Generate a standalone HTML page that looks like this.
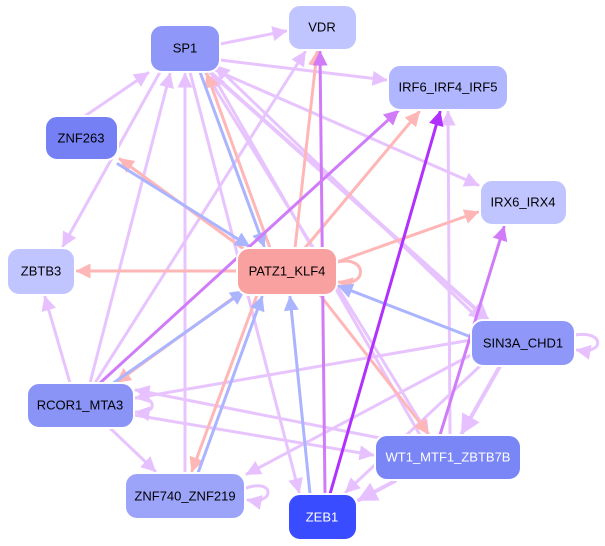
<!DOCTYPE html>
<html><head><meta charset="utf-8"><style>
html,body{margin:0;padding:0;background:#fff;}
svg{display:block;}
text{font-family:"Liberation Sans",sans-serif;font-size:13px;text-anchor:middle;dominant-baseline:central;}
</style></head><body>
<svg width="605" height="546" viewBox="0 0 605 546" xmlns="http://www.w3.org/2000/svg">
<defs>
<marker id="aL" markerWidth="5" markerHeight="5" refX="4.5" refY="2.5" orient="auto" markerUnits="strokeWidth"><path d="M0,0L5,2.5L0,5z" fill="#e6c0ff"/></marker>
<marker id="aP" markerWidth="5" markerHeight="5" refX="4.5" refY="2.5" orient="auto" markerUnits="strokeWidth"><path d="M0,0L5,2.5L0,5z" fill="#ffb6b6"/></marker>
<marker id="aB" markerWidth="5" markerHeight="5" refX="4.5" refY="2.5" orient="auto" markerUnits="strokeWidth"><path d="M0,0L5,2.5L0,5z" fill="#aab4ff"/></marker>
<marker id="aM" markerWidth="5" markerHeight="5" refX="4.5" refY="2.5" orient="auto" markerUnits="strokeWidth"><path d="M0,0L5,2.5L0,5z" fill="#d07cf8"/></marker>
<marker id="aV" markerWidth="5" markerHeight="5" refX="4.5" refY="2.5" orient="auto" markerUnits="strokeWidth"><path d="M0,0L5,2.5L0,5z" fill="#b030ff"/></marker>
</defs>
<g fill="none" stroke-width="3" stroke-linecap="round">
<g stroke="#e8c4ff" marker-end="url(#aL)">
<line x1="220" y1="44" x2="286" y2="31"/>
<line x1="220" y1="60" x2="386" y2="80"/>
<line x1="215" y1="70" x2="478" y2="185"/>
<line x1="160" y1="72" x2="63" y2="246"/>
<line x1="210" y1="72" x2="488" y2="320" stroke-width="4"/>
<line x1="205" y1="72" x2="428" y2="434"/>
<line x1="190" y1="72" x2="299" y2="492"/>
<line x1="85" y1="116" x2="148" y2="73"/>
<line x1="95" y1="383" x2="305" y2="52"/>
<line x1="90" y1="383" x2="170" y2="74"/>
<line x1="70" y1="383" x2="45" y2="297"/>
<line x1="110" y1="428" x2="155" y2="471"/>
<line x1="134" y1="415" x2="373" y2="455"/>
<line x1="471" y1="340" x2="136" y2="398"/>
<line x1="390" y1="440" x2="136" y2="390"/>
<line x1="450" y1="435" x2="448" y2="112"/>
<line x1="420" y1="435" x2="212" y2="74"/>
<line x1="395" y1="481" x2="359" y2="500" stroke-width="4"/>
<line x1="500" y1="366" x2="462" y2="433" stroke-width="4"/>
<line x1="471" y1="355" x2="247" y2="474"/>
<line x1="480" y1="366" x2="346" y2="492"/>
<line x1="480" y1="320" x2="216" y2="66"/>
<line x1="185" y1="473" x2="185" y2="74"/>
<path d="M246,488 C275,478 275,505 248,500"/>
<path d="M575,335 C605,330 605,355 577,350"/>
<path d="M134,398 C158,395 158,415 136,412"/>
</g>
<g stroke="#ffb6b6" marker-end="url(#aP)">
<line x1="270" y1="248" x2="207" y2="74"/>
<line x1="245" y1="250" x2="120" y2="159"/>
<line x1="295" y1="248" x2="317" y2="52"/>
<line x1="305" y1="248" x2="419" y2="112"/>
<line x1="337" y1="262" x2="478" y2="212"/>
<line x1="237" y1="271" x2="77" y2="271"/>
<line x1="320" y1="295" x2="428" y2="433"/>
<line x1="240" y1="293" x2="117" y2="382"/>
<line x1="257" y1="295" x2="192" y2="471"/>
<path d="M337,262 C368,255 368,288 339,282"/>
</g>
<g stroke="#aab4ff" marker-end="url(#aB)">
<line x1="200" y1="72" x2="264" y2="246"/>
<line x1="118" y1="164" x2="249" y2="246"/>
<line x1="471" y1="337" x2="339" y2="286"/>
<line x1="310" y1="494" x2="290" y2="297"/>
<line x1="112" y1="384" x2="244" y2="291"/>
<line x1="198" y1="473" x2="262" y2="297"/>
</g>
<g stroke="#d07cf8" marker-end="url(#aM)">
<line x1="100" y1="383" x2="398" y2="111"/>
<line x1="325" y1="494" x2="320" y2="52"/>
<line x1="440" y1="435" x2="504" y2="227"/>
</g>
<line x1="330" y1="494" x2="440" y2="112" stroke="#b030ff" marker-end="url(#aV)"/>
</g>
<g stroke="#ffffff" stroke-width="2">
<rect x="150" y="25" width="70" height="47" rx="12" fill="#8f98f8"/>
<rect x="288" y="5" width="69" height="45" rx="12" fill="#c0c4ff"/>
<rect x="388" y="65" width="120" height="45" rx="12" fill="#b0b6ff"/>
<rect x="45" y="116" width="73" height="44" rx="12" fill="#7480f4"/>
<rect x="480" y="180" width="87" height="45" rx="12" fill="#c0c4ff"/>
<rect x="7" y="248" width="68" height="47" rx="12" fill="#c0c4ff"/>
<rect x="237" y="248" width="100" height="47" rx="12" fill="#f9a0a0"/>
<rect x="471" y="320" width="104" height="46" rx="12" fill="#8f98f8"/>
<rect x="27" y="383" width="107" height="45" rx="12" fill="#8a94f6"/>
<rect x="375" y="435" width="146" height="45" rx="12" fill="#7a86f6"/>
<rect x="125" y="473" width="120" height="46" rx="12" fill="#9ca4fa"/>
<rect x="288" y="494" width="69" height="46" rx="12" fill="#3a4cff"/>
</g>
<text x="185" y="48">SP1</text>
<text x="322" y="27">VDR</text>
<text x="448" y="87">IRF6_IRF4_IRF5</text>
<text x="81" y="138">ZNF263</text>
<text x="523" y="202">IRX6_IRX4</text>
<text x="41" y="271">ZBTB3</text>
<text x="287" y="271">PATZ1_KLF4</text>
<text x="523" y="343">SIN3A_CHD1</text>
<text x="80" y="405">RCOR1_MTA3</text>
<text x="448" y="457" fill="#fff">WT1_MTF1_ZBTB7B</text>
<text x="185" y="496">ZNF740_ZNF219</text>
<text x="322" y="517" fill="#fff">ZEB1</text>
</svg>
</body></html>
